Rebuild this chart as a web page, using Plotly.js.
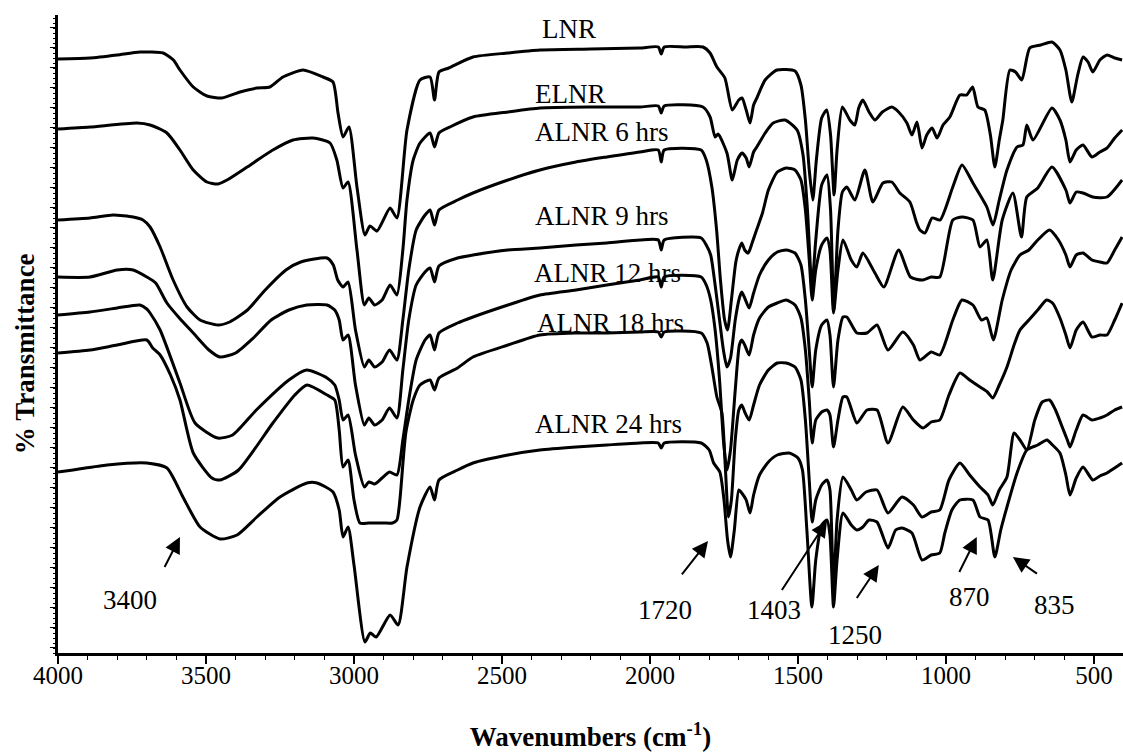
<!DOCTYPE html>
<html><head><meta charset="utf-8">
<script src="https://cdn.plot.ly/plotly-3.0.1.min.js"></script>
<style>html,body{margin:0;padding:0;background:#fff}#plot{width:1123px;height:756px}</style>
</head><body><div id="plot"></div>
<script>
// FTIR spectra, offset % transmittance (arbitrary units)
const wn_LNR=[4000,3892,3800,3723,3645,3610,3588,3543,3497,3446,3385,3328,3284,3240,3172,3105,3071,3054,3037,3017,2990,2963,2946,2922,2878,2855,2821,2777,2743,2728,2713,2680,2598,2480,2372,2200,2034,1972,1962,1952,1880,1821,1797,1774,1747,1722,1700,1689,1675,1662,1650,1639,1611,1571,1510,1490,1475,1462,1450,1438,1420,1403,1390,1378,1368,1350,1325,1308,1295,1281,1260,1240,1215,1183,1160,1132,1115,1098,1081,1065,1047,1030,1010,987,953,930,910,892,869,850,835,820,808,784,765,744,717,680,642,615,595,575,555,537,520,504,480,456,430,405];
const T_LNR=[594,595,598,601,600,593,583,566,557,555,561,565,566,576,583,576,571,540,516,526,466,418,427,422,445,435,523,573,576,553,581,585,596,600,603,604,605,606,599,606,606,606,600,586,575,543,553,555,543,530,548,555,573,583,582,568,533,483,453,493,535,543,518,458,503,546,533,528,545,553,541,533,541,546,541,530,518,531,505,518,525,515,528,536,558,558,566,546,543,518,486,513,533,583,581,573,605,608,611,603,583,551,578,596,591,581,593,598,595,593];

const wn_ELNR=[4000,3892,3733,3689,3632,3588,3543,3497,3460,3429,3361,3274,3206,3139,3081,3058,3037,3020,2990,2965,2950,2930,2905,2878,2855,2835,2821,2800,2777,2743,2728,2713,2676,2598,2480,2372,2200,2034,1972,1962,1952,1821,1797,1780,1770,1740,1722,1705,1689,1675,1665,1650,1639,1611,1584,1544,1503,1483,1468,1453,1440,1420,1402,1390,1379,1365,1350,1335,1308,1274,1247,1213,1183,1156,1122,1100,1088,1071,1047,1020,977,946,909,862,841,820,794,760,740,727,706,642,615,595,581,560,537,507,480,456,430,405];
const T_ELNR=[524,526,530,528,520,503,483,471,469,473,486,503,513,515,510,493,465,471,403,348,355,348,353,368,358,403,453,493,510,520,506,520,526,536,541,545,546,546,547,540,547,546,536,516,519,500,473,493,500,495,486,501,506,520,530,533,523,498,443,366,413,468,478,443,343,423,461,466,453,483,451,470,471,460,451,431,423,420,435,433,466,488,470,446,428,453,483,506,508,528,513,545,533,513,491,503,508,496,501,505,515,523];

const wn_A6=[4000,3892,3814,3746,3713,3689,3655,3611,3564,3520,3460,3420,3360,3300,3230,3180,3091,3070,3055,3037,3020,2995,2965,2950,2930,2905,2880,2855,2835,2815,2790,2760,2743,2728,2713,2650,2598,2480,2372,2250,2146,2034,1972,1962,1952,1827,1810,1791,1775,1762,1748,1738,1725,1710,1700,1690,1680,1668,1655,1640,1620,1600,1570,1540,1510,1490,1475,1462,1452,1440,1420,1402,1392,1380,1365,1348,1320,1301,1281,1240,1210,1160,1120,1080,1050,1021,977,946,909,885,862,842,810,774,745,727,690,642,595,581,560,537,504,456,405];
const T_A6=[433,435,438,436,433,426,406,373,346,333,328,331,343,363,383,391,395,388,373,366,371,323,286,293,286,291,303,293,333,383,423,438,443,428,443,453,460,473,483,491,496,501,503,491,503,503,493,466,423,373,333,323,353,391,403,410,403,400,410,423,440,463,481,485,483,473,443,393,353,383,408,415,403,340,383,413,393,386,400,380,366,403,376,373,376,376,433,436,433,406,413,373,433,460,416,456,465,486,463,450,461,460,456,456,473];

const wn_A9=[4000,3892,3800,3746,3700,3670,3632,3590,3543,3490,3453,3400,3340,3280,3220,3160,3091,3065,3050,3037,3020,2995,2965,2950,2930,2905,2880,2855,2835,2815,2790,2760,2743,2728,2713,2650,2598,2480,2372,2250,2146,2034,1972,1962,1952,1827,1810,1795,1780,1765,1752,1740,1728,1712,1698,1690,1680,1665,1650,1630,1600,1570,1540,1510,1490,1475,1462,1452,1440,1420,1402,1392,1380,1365,1348,1335,1301,1267,1233,1196,1146,1110,1088,1050,1021,977,946,909,880,862,840,810,780,750,720,690,650,620,595,581,560,537,507,480,456,430,405];
const T_A9=[376,376,383,383,376,370,350,335,320,303,296,300,315,333,343,348,348,343,333,313,318,268,228,235,228,233,245,235,283,333,368,381,385,371,387,395,398,403,405,408,410,413,413,403,413,415,408,398,368,333,303,286,295,333,355,361,355,345,360,378,393,401,403,400,388,353,303,266,303,328,333,318,266,313,336,336,320,320,328,303,321,308,293,301,298,333,353,348,333,335,313,353,383,398,403,413,423,413,398,386,398,400,393,391,390,403,416];

const wn_A12=[4000,3892,3800,3723,3700,3689,3655,3588,3537,3460,3410,3330,3220,3160,3091,3065,3050,3037,3020,2995,2965,2950,2930,2905,2880,2855,2835,2815,2790,2760,2743,2728,2713,2650,2598,2480,2372,2250,2146,2034,1972,1962,1952,1827,1810,1795,1780,1765,1752,1740,1728,1712,1698,1690,1680,1665,1650,1630,1600,1570,1540,1510,1490,1475,1462,1452,1440,1420,1402,1392,1380,1365,1348,1335,1301,1267,1233,1196,1146,1110,1078,1050,1021,990,953,920,885,860,842,820,794,770,750,720,690,660,640,615,595,581,560,537,507,480,456,430,405];
const T_A12=[338,341,345,348,344,340,323,270,230,215,218,243,273,283,275,268,253,233,238,198,166,171,169,175,181,178,213,253,293,313,318,303,320,330,336,348,358,363,368,373,376,366,376,376,368,353,323,273,213,183,203,263,308,313,308,298,318,335,346,350,353,348,335,303,253,210,233,241,243,238,206,233,256,256,230,243,243,210,246,233,225,231,233,258,280,273,266,261,255,268,286,308,323,333,343,353,350,335,318,305,323,331,316,318,318,333,350];

const wn_A18=[4000,3892,3800,3700,3680,3655,3620,3588,3543,3480,3453,3390,3274,3200,3159,3091,3065,3050,3037,3020,3000,2980,2950,2900,2870,2855,2845,2825,2800,2777,2743,2728,2713,2650,2598,2480,2372,2250,2146,2034,1972,1962,1952,1827,1807,1791,1774,1757,1745,1735,1725,1712,1700,1690,1680,1665,1650,1630,1600,1570,1540,1510,1490,1475,1462,1452,1440,1420,1402,1392,1380,1368,1348,1320,1301,1270,1233,1196,1149,1110,1081,1050,1021,990,953,920,885,858,842,820,794,770,750,727,700,675,650,630,610,590,581,560,537,507,480,456,430,405];
const T_A18=[300,303,308,313,305,298,278,253,200,175,173,183,230,258,268,258,253,223,186,193,153,130,130,130,130,133,153,220,253,268,273,263,275,285,296,308,318,320,320,321,321,316,321,320,310,286,256,240,183,136,153,213,243,248,241,233,248,268,283,290,290,286,273,233,173,131,153,168,173,163,63,133,176,163,153,161,163,140,156,148,136,141,143,173,190,178,166,158,148,163,176,220,213,203,233,251,253,243,228,213,206,223,238,233,235,238,243,246];

const wn_A24=[4000,3949,3834,3700,3632,3578,3520,3453,3395,3328,3250,3159,3125,3071,3050,3037,3020,3000,2963,2945,2925,2878,2851,2821,2777,2743,2728,2713,2650,2598,2480,2372,2250,2146,2034,1972,1962,1952,1827,1800,1785,1764,1750,1738,1728,1715,1700,1690,1675,1662,1650,1630,1600,1570,1530,1500,1485,1470,1453,1440,1420,1402,1392,1380,1368,1348,1320,1301,1281,1260,1233,1196,1170,1149,1115,1081,1050,1021,1004,980,953,909,885,858,835,815,794,760,727,690,659,640,615,595,581,560,537,504,480,456,430,405];
const T_A24=[181,183,188,190,185,156,126,114,118,136,156,170,170,161,143,116,126,88,11,20,16,38,28,86,146,166,153,173,183,190,198,203,206,208,210,210,205,210,210,203,190,181,153,113,96,123,163,160,153,140,158,178,191,198,200,195,183,123,46,93,128,133,118,46,93,140,128,123,126,133,131,105,123,125,120,93,98,100,120,143,153,153,136,133,96,123,146,180,203,208,213,208,200,178,158,175,186,173,177,180,185,190];

const seriesNames=['LNR','ELNR','ALNR 6 hrs','ALNR 9 hrs','ALNR 12 hrs','ALNR 18 hrs','ALNR 24 hrs'];
const seriesX=[wn_LNR,wn_ELNR,wn_A6,wn_A9,wn_A12,wn_A18,wn_A24];
const seriesY=[T_LNR,T_ELNR,T_A6,T_A9,T_A12,T_A18,T_A24];

// label anchor points (wavenumber, offset transmittance)
const labelX=[2372,2395,2395,2395,2399,2389,2395];
const labelY=[624,559,521,437,380,330,229];

// peak markers: text position and arrow tail/head
const peakText=['3400','1720','1403','1250','870','835'];
const peakTextX=[3757,1950,1581,1308,919,632];
const peakTextY=[53,43,43,18,56,48];
const arrowTailX=[3645,1899,1561,1308,960,686];
const arrowTailY=[83,76,60,52,78,78];
const arrowHeadX=[3588,1804,1402,1227,896,774];
const arrowHeadY=[116,112,132,88,116,96];

const serif='"Liberation Serif","Times New Roman",serif';
const traces=seriesX.map((x,i)=>({x:x,y:seriesY[i],type:'scatter',mode:'lines',name:seriesNames[i],
  line:{color:'#000',width:3,shape:'spline',smoothing:0.6},hoverinfo:'skip'}));

const ann=[];
seriesNames.forEach((t,i)=>ann.push({x:labelX[i],y:labelY[i],xref:'x',yref:'y',text:t,showarrow:false,
  xanchor:'left',yanchor:'middle',font:{family:serif,size:27,color:'#000'}}));
peakText.forEach((t,i)=>{
  ann.push({x:peakTextX[i],y:peakTextY[i],xref:'x',yref:'y',text:t,showarrow:false,xanchor:'center',yanchor:'middle',
    font:{family:serif,size:27,color:'#000'}});
  ann.push({x:arrowHeadX[i],y:arrowHeadY[i],xref:'x',yref:'y',ax:arrowTailX[i],ay:arrowTailY[i],axref:'x',ayref:'y',
    text:' ',showarrow:true,arrowhead:2,arrowsize:1.6,arrowwidth:2,arrowcolor:'#000',font:{size:2}});
});
// y-axis title (sits a little below the plot centre in the original)
ann.push({xref:'paper',yref:'paper',x:-0.031,y:0.47,text:'<b>% Transmittance</b>',textangle:-90,showarrow:false,
  xanchor:'center',yanchor:'middle',font:{family:serif,size:27,color:'#000'}});

const layout={width:1123,height:756,margin:{l:58,r:0,t:15,b:103},paper_bgcolor:'#fff',plot_bgcolor:'#fff',
  showlegend:false,
  xaxis:{range:[4000,402],showgrid:false,zeroline:false,showline:true,linecolor:'#000',linewidth:3,
    ticks:'outside',ticklen:8,tickwidth:2,tickcolor:'#000',tick0:500,dtick:500,ticklabelstandoff:-10,
    minor:{dtick:100,ticks:'outside',ticklen:4,tickwidth:1,tickcolor:'#000'},
    tickfont:{family:serif,size:25,color:'#000'},
    title:{text:'<b>Wavenumbers (cm<sup>-1</sup>)</b>',font:{family:serif,size:27,color:'#000'},standoff:40}},
  yaxis:{range:[0,638],showgrid:false,zeroline:false,showline:true,linecolor:'#000',linewidth:3,
    ticks:'outside',ticklen:5,tickwidth:1,tickcolor:'#000',tick0:6,dtick:20,showticklabels:false,
    minor:{dtick:5,ticks:'outside',ticklen:2,tickwidth:1,tickcolor:'#000'}},
  annotations:ann};
Plotly.newPlot('plot',traces,layout,{displayModeBar:false,staticPlot:true});
</script></body></html>
